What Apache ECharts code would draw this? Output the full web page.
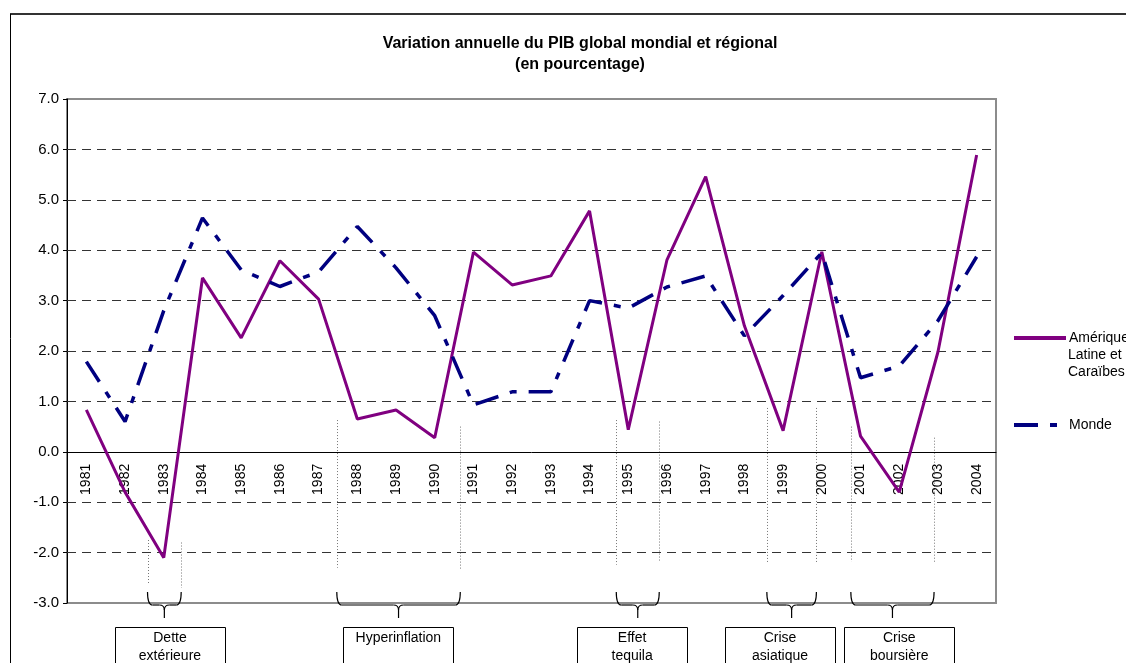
<!DOCTYPE html>
<html>
<head>
<meta charset="utf-8">
<script src="https://cdn.jsdelivr.net/npm/echarts@6/dist/echarts.min.js"></script>
<style>
html,body{margin:0;padding:0;background:#fff;}
#main{width:1126px;height:663px;}
</style>
</head>
<body>
<div id="main"></div>
<script>
var years = ['1981','1982','1983','1984','1985','1986','1987','1988','1989','1990','1991','1992',
             '1993','1994','1995','1996','1997','1998','1999','2000','2001','2002','2003','2004'];
var latam = [0.83,-0.8,-2.1,3.45,2.26,3.79,3.03,0.65,0.83,0.28,3.96,3.31,
             3.49,4.78,0.44,3.81,5.46,2.5,0.42,3.97,0.31,-0.8,1.98,5.89];
var monde = [1.79,0.6,2.8,4.64,3.61,3.28,3.57,4.47,3.65,2.7,0.93,1.19,
             1.19,3.0,2.85,3.27,3.49,2.3,3.1,3.95,1.47,1.7,2.6,3.87];
var gridValues = [-2,-1,1,2,3,4,5,6];

// periodes de crise: bornes en index de categorie, hauteur des pointilles en valeur
var crises = [
    {text:['Dette','extérieure'], from:1.58, to:2.45, box:2.16, lines:[[-1.75,-2.64],[-1.8,-2.7]]},
    {text:['Hyperinflation'], from:6.47, to:9.66, box:8.06, lines:[[0.63,-2.3],[0.5,-2.34]]},
    {text:['Effet','tequila'], from:13.69, to:14.8, box:14.1, lines:[[0.63,-2.24],[0.6,-2.16]]},
    {text:['Crise','asiatique'], from:17.58, to:18.86, box:17.92, lines:[[0.87,-2.2],[0.87,-2.2]]},
    {text:['Crise','boursière'], from:19.75, to:21.9, box:21.0, lines:[[0.5,-2.18],[0.28,-2.22]]}
];

var FONT = '"Liberation Sans", Arial, sans-serif';
var nameLatam = 'Amérique Latine et Caraïbes', nameMonde = 'Monde';

var chart = echarts.init(document.getElementById('main'));
chart.setOption({
    animation:false,
    title:{
        text:'Variation annuelle du PIB global mondial et régional\n(en pourcentage)',
        left:575, top:28, textAlign:'center',
        textStyle:{fontFamily:FONT, fontSize:16, fontWeight:'bold', color:'#000', lineHeight:21}
    },
    legend:[{
        data:[nameLatam], orient:'vertical', left:1007, top:326,
        itemWidth:52, itemHeight:14, itemGap:0,
        itemStyle:{opacity:0}, lineStyle:{width:4},
        formatter:function(){ return 'Amérique'; },
        textStyle:{fontFamily:FONT, fontSize:14, color:'#000', padding:[0,0,0,-2]}
    },{
        data:[nameMonde], orient:'vertical', left:1007, top:413,
        itemWidth:52, itemHeight:14,
        itemStyle:{opacity:0}, lineStyle:{width:4},
        textStyle:{fontFamily:FONT, fontSize:14, color:'#000', padding:[0,0,0,-2]}
    }],
    grid:{left:67, right:130, top:99, bottom:60, show:true, borderColor:'#8c8c8c', borderWidth:2},
    xAxis:{
        type:'category', data:years, boundaryGap:true,
        axisLine:{onZero:false, lineStyle:{color:'#000', width:1}},
        axisTick:{show:false},
        axisLabel:{rotate:90, margin:12, fontFamily:FONT, fontSize:14, color:'#000'},
        splitLine:{show:false}
    },
    yAxis:{
        type:'value', min:-3, max:7, interval:1,
        axisLine:{show:true, lineStyle:{color:'#000', width:1}},
        axisTick:{show:true, length:4, lineStyle:{color:'#000'}},
        axisLabel:{margin:8, fontFamily:FONT, fontSize:15, color:'#000',
            formatter:function(v){ return v.toFixed(1); }},
        splitLine:{show:false}
    },
    series:[{
        name:nameLatam, type:'line', data:latam, symbol:'none', z:3,
        lineStyle:{color:'#800080', width:3}, itemStyle:{color:'#800080'},
        markLine:{
            silent:true, symbol:'none', label:{show:false}, z:1,
            lineStyle:{color:'#333', width:1, type:[9,6]},
            data:gridValues.map(function(v){ return {yAxis:v}; })
        }
    },{
        name:nameMonde, type:'line', data:monde, symbol:'none', z:4,
        lineStyle:{color:'#000080', width:3.5, type:[24,12,7,12]}, itemStyle:{color:'#000080'}
    }]
});

function xPix(idx){
    var i = Math.floor(idx);
    var a = chart.convertToPixel({xAxisIndex:0}, i);
    var b = chart.convertToPixel({xAxisIndex:0}, i + 1);
    return a + (idx - i) * (b - a);
}
function yPix(v){ return chart.convertToPixel({yAxisIndex:0}, v); }

var yBase = yPix(-3);
// axe des x place sur la ligne du zero
chart.setOption({xAxis:{offset:yPix(0) - yBase}});

var black = {stroke:'#000', lineWidth:1.2, fill:null};
var els = [];
// cadre exterieur
els.push({type:'line', shape:{x1:10, y1:14, x2:1126, y2:14}, style:{stroke:'#333', lineWidth:2}});
els.push({type:'line', shape:{x1:10.5, y1:14, x2:10.5, y2:663}, style:{stroke:'#000', lineWidth:1}});
// suite du libelle de legende
['Latine et','Caraïbes'].forEach(function(t, k){
    els.push({type:'text', x:1068, y:355 + k*17.5,
        style:{text:t, font:'14px ' + FONT, fill:'#000', textVerticalAlign:'middle'}});
});

crises.forEach(function(c){
    var xl = xPix(c.from), xr = xPix(c.to), xc = (xl + xr) / 2, xb = xPix(c.box);
    // pointilles verticaux
    [xl, xr].forEach(function(x, k){
        els.push({type:'line', shape:{x1:Math.round(x)+0.5, y1:yPix(c.lines[k][0]), x2:Math.round(x)+0.5, y2:yPix(c.lines[k][1])},
            style:{stroke:'#777', lineWidth:1, lineDash:[1,2]}});
    });
    // accolade
    var yt = yBase - 11, ym = yBase + 2, yp = yBase + 15, r = 5;
    els.push({type:'bezierCurve', shape:{x1:xl, y1:yt, cpx1:xl, cpy1:ym, x2:xl+r, y2:ym}, style:black});
    els.push({type:'line', shape:{x1:xl+r, y1:ym, x2:xc-r, y2:ym}, style:black});
    els.push({type:'bezierCurve', shape:{x1:xc-r, y1:ym, cpx1:xc, cpy1:ym, x2:xc, y2:ym+r}, style:black});
    els.push({type:'bezierCurve', shape:{x1:xc+r, y1:ym, cpx1:xc, cpy1:ym, x2:xc, y2:ym+r}, style:black});
    els.push({type:'line', shape:{x1:xc, y1:ym+r, x2:xc, y2:yp}, style:black});
    els.push({type:'line', shape:{x1:xc+r, y1:ym, x2:xr-r, y2:ym}, style:black});
    els.push({type:'bezierCurve', shape:{x1:xr-r, y1:ym, cpx1:xr, cpy1:ym, x2:xr, y2:yt}, style:black});
    // encadre
    els.push({type:'rect', shape:{x:Math.round(xb-55)+0.5, y:Math.round(yBase+24)+0.5, width:110, height:50},
        style:{stroke:'#000', lineWidth:1, fill:'#fff'}});
    c.text.forEach(function(t, k){
        els.push({type:'text', x:xb, y:yBase + 35 + k*18,
            style:{text:t, font:'14px ' + FONT, fill:'#000', textAlign:'center', textVerticalAlign:'middle'}});
    });
});
chart.setOption({graphic:els});
</script>
</body>
</html>
